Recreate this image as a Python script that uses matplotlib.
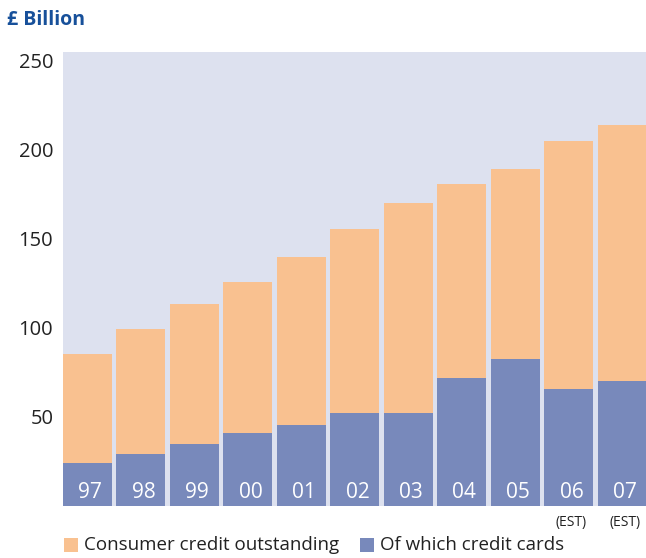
import matplotlib
matplotlib.use("Agg")
import matplotlib.pyplot as plt
from matplotlib.patches import Rectangle

# UK consumer credit, £ billion
years = ["97", "98", "99", "00", "01", "02", "03", "04", "05", "06", "07"]
estimated = ["06", "07"]
consumer_credit = [85, 99, 113, 125.5, 139.5, 155.5, 170, 180.5, 189, 204.5, 213.5]
credit_cards = [24, 29, 35, 41, 45.5, 52, 52, 72, 82.5, 65.5, 70]
yticks = [50, 100, 150, 200, 250]

ORANGE = "#F9C190"
BLUE = "#7889BB"
BG = "#DDE1EF"
TEXT = "#222222"
TITLE = "#17509A"
FONT = "Open Sans"

W, H = 646, 558
fig = plt.figure(figsize=(W / 100, H / 100), dpi=100)
ax = fig.add_axes([63 / W, 1 - 506 / H, (646 - 63) / W, (506 - 52) / H])
ax.set_facecolor(BG)

x = list(range(len(years)))
width = 0.91
ax.bar(x, consumer_credit, width=width, color=ORANGE, linewidth=0)
ax.bar(x, credit_cards, width=width, color=BLUE, linewidth=0)

ax.set_xlim(-width / 2, len(years) - 1 + width / 2 - 0.01)
ax.set_ylim(0, 254.5)
ax.set_yticks(yticks)
ax.set_yticklabels([str(v) for v in yticks], fontsize=14.5, color=TEXT, family=FONT)
ax.tick_params(axis="y", length=0, pad=7)
ax.set_xticks([])
for s in ax.spines.values():
    s.set_visible(False)

# year labels inside the bars
for xi, yr in zip(x, years):
    ax.text(xi + 0.05, 7.5, yr, ha="center", va="center", color="white",
            fontsize=15, family=FONT)
    if yr in estimated:
        ax.text(xi + 0.05, -9, "(EST)", ha="center", va="center", color=TEXT,
                fontsize=10, family=FONT, clip_on=False)

# unit title
fig.text(7 / W, 1 - 20 / H, "£ Billion", ha="left", va="center", color=TITLE,
         fontsize=14, fontweight="bold", family=FONT)

# legend
sq = 14
for x0, color, label in [(64, ORANGE, "Consumer credit outstanding"),
                         (360, BLUE, "Of which credit cards")]:
    fig.patches.append(Rectangle((x0 / W, 1 - 552 / H), sq / W, sq / H,
                                 transform=fig.transFigure, color=color, linewidth=0))
    fig.text((x0 + sq + 6) / W, 1 - 545 / H, label, ha="left", va="center",
             color=TEXT, fontsize=13.5, family=FONT)

fig.savefig("out.png", dpi=100)
